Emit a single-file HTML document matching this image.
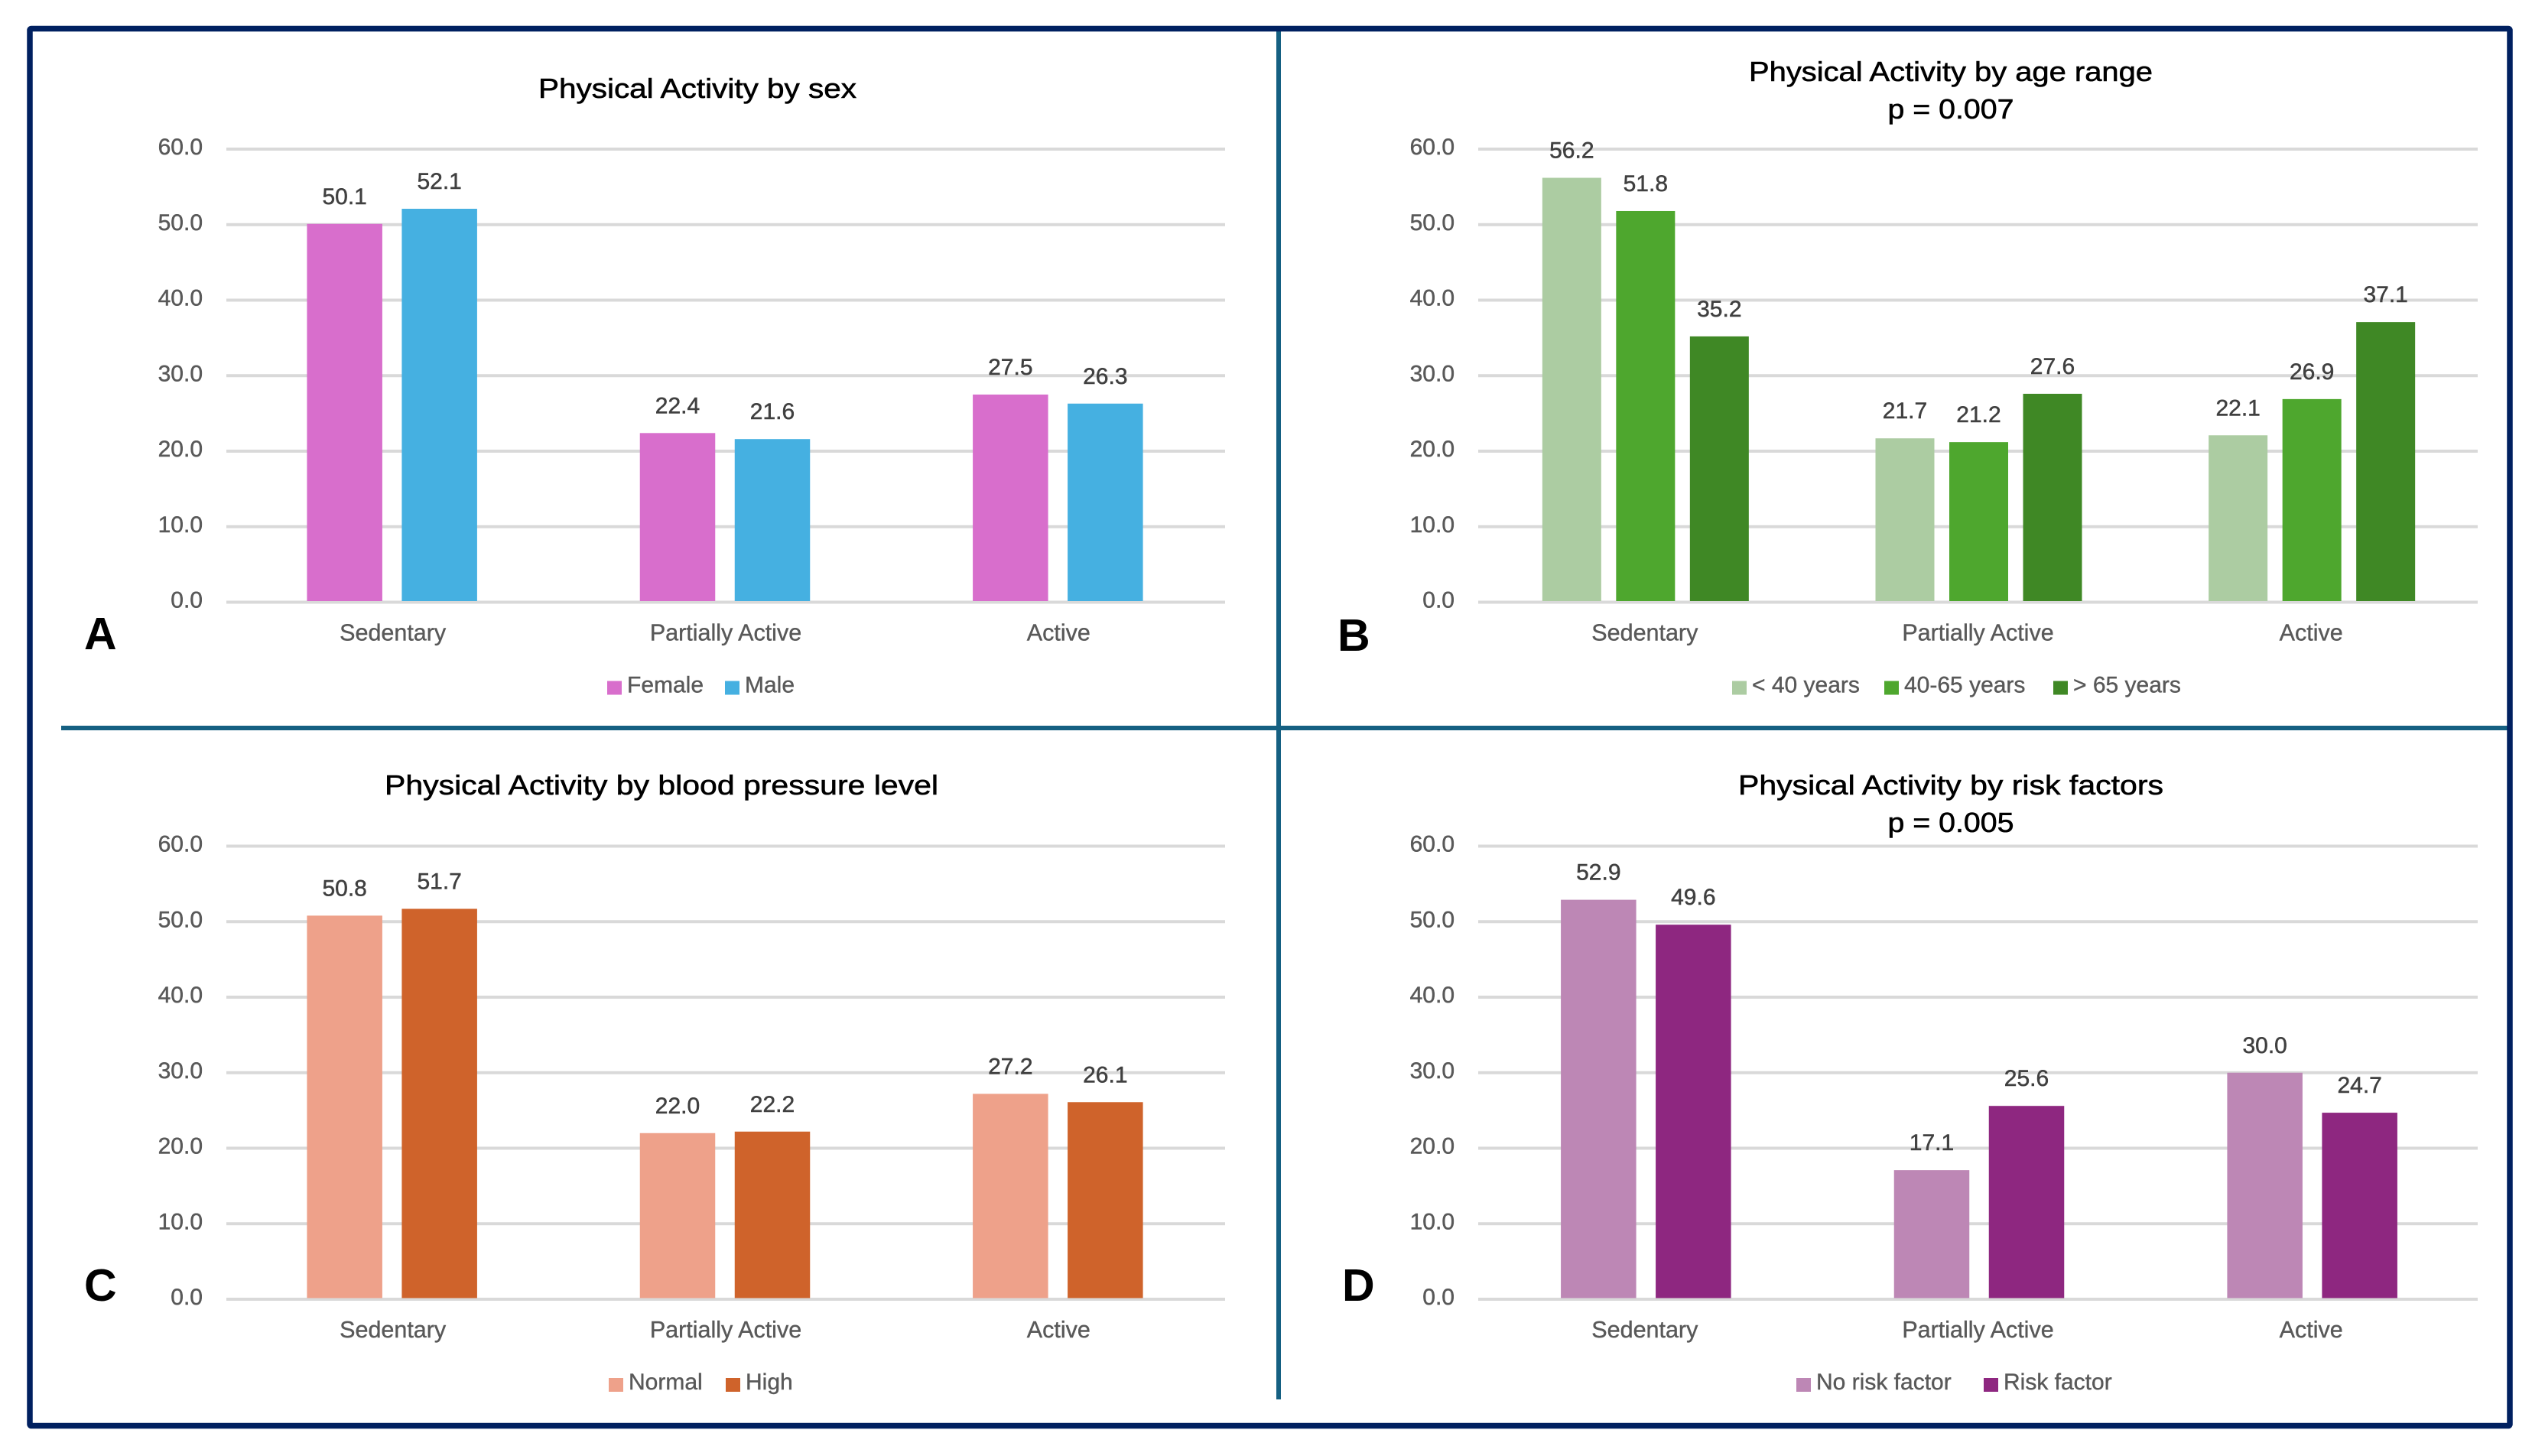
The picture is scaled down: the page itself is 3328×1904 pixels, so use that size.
<!DOCTYPE html>
<html lang="en">
<head>
<meta charset="utf-8">
<title>Physical Activity charts</title>
<style>
  html, body { margin: 0; padding: 0; background: #ffffff; }
  body { width: 3328px; height: 1904px; overflow: hidden; }
  svg { display: block; }
  text { font-family: "Liberation Sans", sans-serif; }
</style>
</head>
<body>
<svg id="figure" xmlns="http://www.w3.org/2000/svg" width="3328" height="1904" viewBox="0 0 3328 1904">
  <rect x="0" y="0" width="3328" height="1904" fill="#ffffff"/>
  <g id="panels"></g>
  <rect x="1669" y="38" width="6" height="1792" fill="#156082"/>
  <rect x="80" y="949" width="3200" height="6" fill="#156082"/>
  <rect x="39" y="37.5" width="3243" height="1827" rx="2" fill="none" stroke="#002060" stroke-width="7.5"/>
</svg>
<script>
// ---- Data (percentages) ----
const categories = ['Sedentary', 'Partially Active', 'Active'];
const yTickValues = [0, 10, 20, 30, 40, 50, 60];
const yMax = 60;

const femaleValues = [50.1, 22.4, 27.5];
const maleValues = [52.1, 21.6, 26.3];

const under40Values = [56.2, 21.7, 22.1];
const age40to65Values = [51.8, 21.2, 26.9];
const over65Values = [35.2, 27.6, 37.1];

const normalBpValues = [50.8, 22.0, 27.2];
const highBpValues = [51.7, 22.2, 26.1];

const noRiskValues = [52.9, 17.1, 30.0];
const riskValues = [49.6, 25.6, 24.7];

// ---- Drawing ----
const NS = 'http://www.w3.org/2000/svg';
const root = document.getElementById('panels');

function make(parent, tag, attrs, content) {
  const el = document.createElementNS(NS, tag);
  for (const k in attrs) el.setAttribute(k, attrs[k]);
  if (content !== undefined) el.textContent = content;
  parent.appendChild(el);
  return el;
}
function slug(s) {
  return String(s).toLowerCase().replace(/[^a-z0-9.]+/g, '-').replace(/^-|-$/g, '');
}

function drawChart(p) {
  const g = make(root, 'g', {});
  
  

  const yScale = v => p.y0 - (v / yMax) * (p.y0 - p.y60);
  const band = (p.right - p.left) / categories.length;
  const xCenter = i => p.left + band * (i + 0.5);

  // gridlines and y tick labels
  yTickValues.forEach(t => {
    const line = make(g, 'rect', { x: p.left, y: yScale(t) - 2, width: p.right - p.left, height: 4, fill: '#d9d9d9' });
    
    
    const lab = make(g, 'text', { x: p.left - 31, y: yScale(t) + 7, 'text-anchor': 'end', 'font-size': 30, fill: '#595959', stroke: '#595959', 'stroke-width': 0.5 }, t.toFixed(1));
    
    
  });

  // bars and value labels
  const n = p.series.length;
  const groupW = n * p.barW + (n - 1) * p.barGap;
  p.series.forEach((s, si) => {
    s.values.forEach((v, ci) => {
      const x = xCenter(ci) + p.barShift - groupW / 2 + si * (p.barW + p.barGap);
      const top = yScale(v);
      const bar = make(g, 'rect', { x: x, y: top, width: p.barW, height: yScale(0) - 1.5 - top, fill: s.color });
      
      
      const lab = make(g, 'text', { x: x + p.barW / 2, y: top - 26, 'text-anchor': 'middle', 'font-size': 30, fill: '#404040', stroke: '#404040', 'stroke-width': 0.5 }, v.toFixed(1));
      
      
    });
  });

  // category labels
  categories.forEach((c, i) => {
    const lab = make(g, 'text', { x: xCenter(i), y: p.y0 + 50, 'text-anchor': 'middle', 'font-size': 30.5, fill: '#595959', stroke: '#595959', 'stroke-width': 0.4 }, c);
    
    
  });

  // title lines
  p.title.forEach((line, i) => {
    const t = make(g, 'text', { x: p.titleX, y: p.titleY[i], 'text-anchor': 'middle', 'font-size': 36, fill: '#000000', stroke: '#000000', 'stroke-width': 0.6, textLength: p.titleWidth[i], lengthAdjust: 'spacingAndGlyphs' }, line);
    
    
  });

  // legend
  p.series.forEach((s, si) => {
    const sw = make(g, 'rect', { x: p.legendX[si], y: p.y0 + 103, width: 19, height: 18, fill: s.color });
    
    
    const lab = make(g, 'text', { x: p.legendX[si] + 26, y: p.y0 + 118, 'font-size': 30, fill: '#595959', stroke: '#595959', 'stroke-width': 0.4 }, s.name);
    
    
  });

  // panel letter
  const letter = make(g, 'text', { x: p.letterX, y: p.letterY, 'font-size': 59, 'font-weight': 700, fill: '#000000' }, p.id);
  
  
}

drawChart({
  id: 'A', left: 296, right: 1602, y0: 787.5, y60: 195, barW: 98.5, barGap: 25.5, barShift: -1,
  title: ['Physical Activity by sex'], titleWidth: [416], titleX: 912, titleY: [128],
  legendX: [794, 948], letterX: 110, letterY: 849,
  series: [
    { name: 'Female', color: '#d86ecc', values: femaleValues },
    { name: 'Male', color: '#45b0e1', values: maleValues }
  ]
});
drawChart({
  id: 'B', left: 1933, right: 3240, y0: 787.5, y60: 195, barW: 77, barGap: 19.5, barShift: 1,
  title: ['Physical Activity by age range', 'p = 0.007'], titleWidth: [528, 165], titleX: 2551, titleY: [106, 155],
  legendX: [2265, 2464, 2685], letterX: 1749, letterY: 851,
  series: [
    { name: '< 40 years', color: '#accca2', values: under40Values },
    { name: '40-65 years', color: '#4ea72e', values: age40to65Values },
    { name: '> 65 years', color: '#3f8825', values: over65Values }
  ]
});
drawChart({
  id: 'C', left: 296, right: 1602, y0: 1699, y60: 1106.5, barW: 98.5, barGap: 25.5, barShift: -1,
  title: ['Physical Activity by blood pressure level'], titleWidth: [724], titleX: 865, titleY: [1039],
  legendX: [796, 949], letterX: 110, letterY: 1701,
  series: [
    { name: 'Normal', color: '#eea18a', values: normalBpValues },
    { name: 'High', color: '#cf632b', values: highBpValues }
  ]
});
drawChart({
  id: 'D', left: 1933, right: 3240, y0: 1699, y60: 1106.5, barW: 98.5, barGap: 25.5, barShift: 1.5,
  title: ['Physical Activity by risk factors', 'p = 0.005'], titleWidth: [556, 165], titleX: 2551, titleY: [1039, 1088],
  legendX: [2349, 2594], letterX: 1755, letterY: 1701,
  series: [
    { name: 'No risk factor', color: '#bd87b5', values: noRiskValues },
    { name: 'Risk factor', color: '#8e2780', values: riskValues }
  ]
});
</script>
</body>
</html>
